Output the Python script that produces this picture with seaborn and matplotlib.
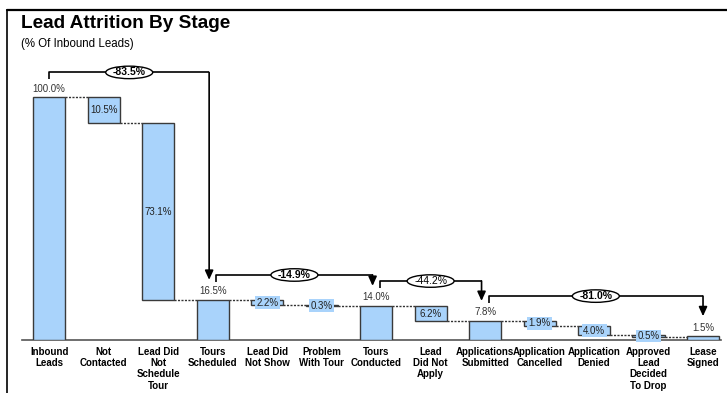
import matplotlib
matplotlib.use("Agg")
import matplotlib.pyplot as plt
from matplotlib.lines import Line2D
from matplotlib.patches import Ellipse
from matplotlib.transforms import ScaledTranslation
import numpy as np
import pandas as pd
import seaborn as sns

categories = ["Inbound\nLeads", "Not\nContacted", "Lead Did\nNot\nSchedule\nTour",
              "Tours\nScheduled", "Lead Did\nNot Show", "Problem\nWith Tour",
              "Tours\nConducted", "Lead\nDid Not\nApply", "Applications\nSubmitted",
              "Application\nCancelled", "Application\nDenied",
              "Approved\nLead\nDecided\nTo Drop", "Lease\nSigned"]
values = [100.0, 10.5, 73.1, 16.5, 2.2, 0.3, 14.0, 6.2, 7.8, 1.9, 4.0, 0.5, 1.5]
is_total = [True, False, False, True, False, False, True, False, True, False, False, False, True]
labels = ["100.0%", "10.5%", "73.1%", "16.5%", "2.2%", "0.3%", "14.0%", "6.2%",
          "7.8%", "1.9%", "4.0%", "0.5%", "1.5%"]
# bracket annotations: (from index, to index, label, bold)
brackets = [(0, 3, "-83.5%", True), (3, 6, "-14.9%", True),
            (6, 8, "-44.2%", False), (8, 12, "-81.0%", True)]

BAR = "#a9d3fb"
EDGE = "#3a3a3a"
FONT = "Liberation Sans"

sns.set_style("white")
plt.rcParams["font.family"] = [FONT, "DejaVu Sans"]
plt.rcParams["text.color"] = "black"
plt.rcParams["xtick.color"] = "black"

# compute bottoms / heights
bottoms, heights, after = [], [], []
level = 0.0
for v, t in zip(values, is_total):
    if t:
        bottoms.append(0.0); heights.append(v); level = v
    else:
        bottoms.append(level - v); heights.append(v); level = level - v
    after.append(level)

df = pd.DataFrame({"x": np.arange(len(values)), "h": heights})

fig = plt.figure(figsize=(7.27, 3.93), dpi=100)
ax = fig.add_axes([22 / 727, 53 / 393, 699 / 727, 115 * 2.426 / 393])

sns.barplot(data=df, x="x", y="h", order=list(range(len(values))), width=0.59,
            color=BAR, saturation=1, edgecolor=EDGE, linewidth=1.0,
            bottom=np.array(bottoms), ax=ax, zorder=3)

ax.set_xlim(-0.5, 12.33)
ax.set_ylim(0, 115)
for s in ["top", "right", "left"]:
    ax.spines[s].set_visible(False)
ax.spines["bottom"].set_color("#555555")
ax.spines["bottom"].set_linewidth(1.2)
ax.set_yticks([])
ax.set_ylabel("")
ax.set_xlabel("")
ax.set_xticks(range(len(categories)))
ax.set_xticklabels(categories, fontsize=7, fontweight="bold", linespacing=1.15)
ax.tick_params(axis="x", length=0, pad=5)

hw = 0.59 / 2
# dotted connectors
for i in range(len(values) - 1):
    lv = after[i]
    ax.plot([i + hw, i + 1 - hw], [lv, lv], ls=(0, (1.5, 1)), color="#333333",
            lw=1.0, zorder=2)

# value labels
for i, (v, t) in enumerate(zip(values, is_total)):
    if t:
        ax.text(i, bottoms[i] + heights[i] + 1.5, labels[i], ha="center", va="bottom",
                fontsize=7, color="#333333", zorder=5)
    elif v >= 5:
        ax.text(i, bottoms[i] + heights[i] / 2, labels[i], ha="center", va="center",
                fontsize=7, color="#222222", zorder=5)
    else:
        ax.text(i, bottoms[i] + heights[i] / 2, labels[i], ha="center", va="center",
                fontsize=7, color="#222222", zorder=5,
                bbox=dict(boxstyle="square,pad=0.15", fc=BAR, ec="none"))

# brackets
off = 0.065
for a, b, lab, bold in brackets:
    ya = after[a]
    yb = after[b]
    xa = a + off if a != 0 else a
    xb = b - off if b != 12 else b
    yh = ya + 10.3
    ax.plot([xa, xa, xb], [ya + 7.4, yh, yh], color="black", lw=1.2, zorder=4,
            solid_capstyle="butt")
    ax.annotate("", xy=(xb, yb + 8.3), xytext=(xb, yh),
                arrowprops=dict(arrowstyle="-|>,head_length=0.55,head_width=0.25",
                                color="black", lw=1.2, shrinkA=0, shrinkB=0), zorder=4)
    xm = (xa + xb) / 2
    tr = fig.dpi_scale_trans + ScaledTranslation(xm, yh, ax.transData)
    ax.add_patch(Ellipse((0, 0), 0.47, 0.125, transform=tr, fc="white",
                         ec="black", lw=1.0, zorder=6))
    ax.text(xm, yh, lab, ha="center", va="center", fontsize=7.5,
            fontweight="bold" if bold else "normal", zorder=7)

# frame and titles
fig.add_artist(Line2D([7 / 727, 7 / 727], [0, 1 - 10 / 393], color="black", lw=1.2))
fig.add_artist(Line2D([7 / 727, 1], [1 - 10 / 393, 1 - 10 / 393], color="black", lw=1.6))
fig.text(21 / 727, 1 - 15 / 393, "Lead Attrition By Stage", ha="left", va="top",
         fontsize=13.7, fontweight="bold")
fig.text(21 / 727, 1 - 38 / 393, "(% Of Inbound Leads)", ha="left", va="top",
         fontsize=8.3)

fig.savefig("out.png", dpi=100)
